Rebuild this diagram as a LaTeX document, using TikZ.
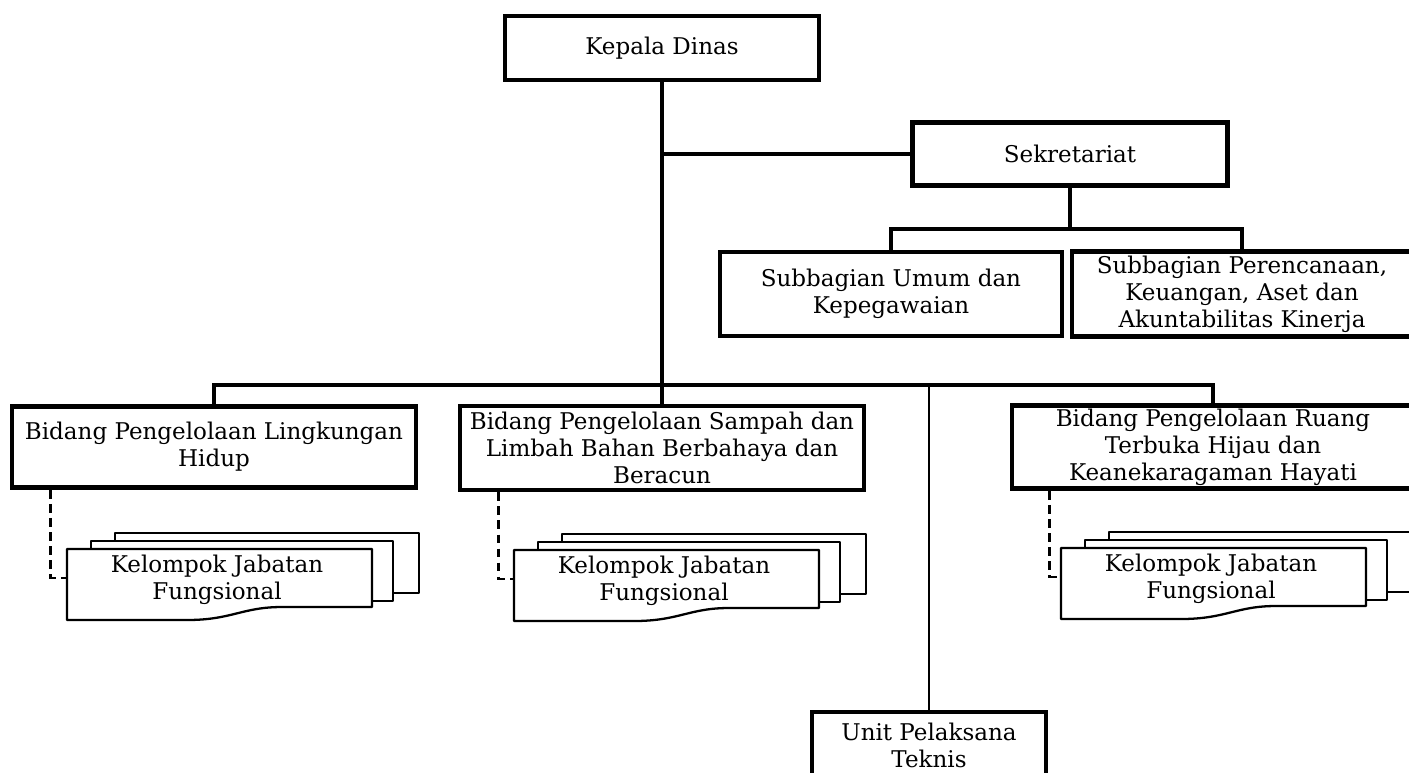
\documentclass[tikz,border=0pt]{standalone}
\usepackage{fontspec}
\setmainfont{DejaVu Serif}
\usetikzlibrary{calc}

\newcommand\orgfont{\fontsize{13.1}{15.3}\selectfont}

\tikzset{
  orgbox/.style={draw, line width=2.7pt, fill=white, align=center, inner sep=0pt, font=\orgfont},
  orgline/.style={line width=2.2pt},
  thinline/.style={line width=1.1pt},
  docline/.style={line width=1.3pt, line join=round},
  dashline/.style={line width=1.6pt, dash pattern=on 5pt off 3pt}
}

% stack of documents: name, x and y of the front sheet's top left corner
\def\kelompok(#1)(#2,#3){
  \draw[docline, fill=white] (#2+48,#3-16) rectangle (#2+352,#3+44);
  \draw[docline, fill=white] (#2+24,#3-8) rectangle (#2+326,#3+52);
  \draw[docline, fill=white] (#2,#3) -- (#2+305,#3) -- (#2+305,#3+58) -- (#2+215,#3+58)
    .. controls (#2+175,#3+58) and (#2+165,#3+71) .. (#2+120,#3+71) -- (#2,#3+71) -- cycle;
  \coordinate (#1-in) at (#2,#3+29);
  \node[font=\orgfont, align=center] (#1) at (#2+150,#3+31) {Kelompok Jabatan\\Fungsional};
}

\begin{document}
\begin{tikzpicture}[x=0.02cm, y=-0.02cm]
  \useasboundingbox (0,0) rectangle (1409,772);
  \clip (0,0) rectangle (1409,772);

  %%%%% BOXES %%%%%
  \node[orgbox, minimum width=6.28cm, minimum height=1.28cm] (kepala) at (662,48) {Kepala Dinas};
  \node[orgbox, minimum width=6.3cm, minimum height=1.26cm] (sekretariat) at (1070,154) {Sekretariat};
  \node[orgbox, minimum width=6.84cm, minimum height=1.68cm] (subumum) at (891,294)
    {Subbagian Umum dan\\Kepegawaian};
  \node[orgbox, minimum width=6.8cm, minimum height=1.7cm] (subrencana) at (1242,294)
    {Subbagian Perencanaan,\\Keuangan, Aset dan\\Akuntabilitas Kinerja};

  \node[orgbox, minimum width=8.08cm, minimum height=1.62cm] (bidang1) at (214,447)
    {Bidang Pengelolaan Lingkungan\\Hidup};
  \node[orgbox, minimum width=8.08cm, minimum height=1.68cm] (bidang2) at (662,448)
    {Bidang Pengelolaan Sampah dan\\Limbah Bahan Berbahaya dan\\Beracun};
  \node[orgbox, minimum width=8.04cm, minimum height=1.66cm] (bidang3) at (1213,447)
    {Bidang Pengelolaan Ruang\\Terbuka Hijau dan\\Keanekaragaman Hayati};

  \node[orgbox, minimum width=4.68cm, minimum height=1.32cm] (upt) at (929,745)
    {Unit Pelaksana\\Teknis};

  \coordinate (mainbus) at (662,385);
  \coordinate (subbus) at (1070,229);

  %%%%% LINES %%%%%
  \draw[orgline] (kepala.south) -- (bidang2.north);
  \draw[orgline] (sekretariat.west) -- (sekretariat.west -| kepala.south);
  \draw[orgline] (bidang1.north) |- (mainbus) -| (bidang3.north);
  \draw[orgline] (sekretariat.south) -- (subbus);
  \draw[orgline] (subumum.north) |- (subbus) -| (subrencana.north);
  \draw[thinline] (upt.north) -- (upt.north |- mainbus);

  %%%%% KELOMPOK JABATAN FUNGSIONAL %%%%%
  \kelompok(kel1)(67,549)
  \kelompok(kel2)(514,550)
  \kelompok(kel3)(1061,548)

  \draw[dashline] ($(bidang1.south west)+(41,0)$) |- (kel1-in);
  \draw[dashline] ($(bidang2.south west)+(41,0)$) |- (kel2-in);
  \draw[dashline] ($(bidang3.south west)+(40,0)$) |- (kel3-in);
\end{tikzpicture}
\end{document}
